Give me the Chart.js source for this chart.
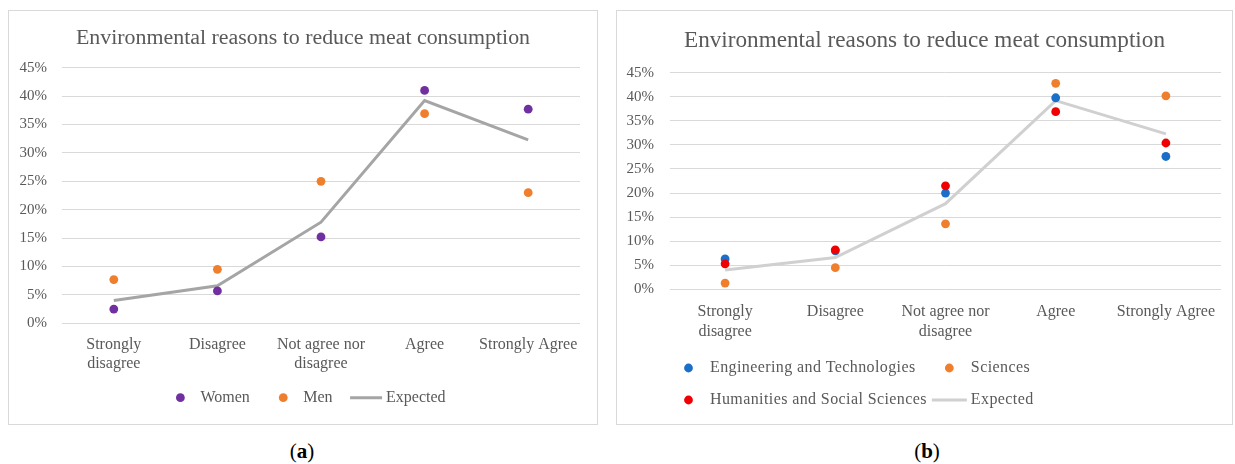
<!DOCTYPE html>
<html>
<head>
<meta charset="utf-8">
<script src="https://cdn.jsdelivr.net/npm/chart.js@4.4.1/dist/chart.umd.min.js"></script>
<style>
  html, body { margin: 0; padding: 0; background: #fff; }
  body { width: 1235px; height: 464px; position: relative; overflow: hidden; font-family: "Liberation Serif", serif; }
  .panel { position: absolute; box-sizing: border-box; border: 1px solid #d9d9d9; background: #fff; }
  #panelA { left: 8px; top: 10px; width: 590px; height: 415px; }
  #panelB { left: 616px; top: 10px; width: 617px; height: 415px; }
  .panel canvas { display: block; }
  .caption { position: absolute; top: 439px; font-size: 21px; color: #000; transform: translateX(-50%); white-space: nowrap; }
</style>
</head>
<body>
<div class="panel" id="panelA"><canvas id="chartA" width="588" height="413"></canvas></div>
<div class="panel" id="panelB"><canvas id="chartB" width="615" height="413"></canvas></div>
<div class="caption" style="left:302px">(<b>a</b>)</div>
<div class="caption" style="left:927px">(<b>b</b>)</div>
<script>
// Answer categories (x axis)
const categories = [['Strongly', 'disagree'], 'Disagree', ['Not agree nor', 'disagree'], 'Agree', 'Strongly Agree'];

// Value axis: percentages from 0 to 45 in steps of 5
const yMin = 0;
const yMax = 45;
const yStep = 5;

// Share of respondents (%) per answer
const expected    = [4.0, 6.6, 17.8, 39.2, 32.3];
const women       = [2.5, 5.7, 15.2, 41.0, 37.7];
const men         = [7.7, 9.5, 25.0, 36.9, 23.0];
const engineering = [6.3, 8.0, 20.0, 39.8, 27.6];
const sciences    = [1.3, 4.5, 13.6, 42.8, 40.2];
const humanities  = [5.3, 8.2, 21.5, 36.9, 30.4];

const TITLE = 'Environmental reasons to reduce meat consumption';
const TEXT_GREY = '#595959';
const GRID_GREY = '#d9d9d9';
const SERIF = '"Liberation Serif", "Times New Roman", serif';

// Centre the title over the whole canvas rather than the padded layout box
const centredTitle = {
  id: 'centredTitle',
  afterLayout(chart) {
    const t = chart.titleBlock;
    if (t) { t.left = 0; t.right = chart.width; t.width = chart.width; }
  }
};

// Legend drawn under the plot: dot for point series, short stroke for the line series
const symbolLegend = {
  id: 'symbolLegend',
  afterDraw(chart, args, opts) {
    const { ctx, chartArea } = chart;
    const sets = chart.data.datasets;
    ctx.save();
    ctx.font = opts.fontSize + 'px ' + SERIF;
    ctx.letterSpacing = (opts.letterSpacing || 0) + 'px';
    ctx.textBaseline = 'middle';
    const itemWidth = i => opts.symbolWidth + opts.textGap + ctx.measureText(sets[i].label).width;

    // column widths (grid layout) or per-item widths (flow layout)
    const nCol = Math.max(...opts.rows.map(r => r.length));
    const colW = [];
    for (let c = 0; c < nCol; c++) {
      colW[c] = Math.max(...opts.rows.map(r => (r[c] !== undefined ? itemWidth(r[c]) : 0)));
    }

    opts.rows.forEach((row, r) => {
      const y = chartArea.bottom + opts.firstRowOffset + r * opts.rowGap;
      const widths = row.map((idx, c) => (opts.grid ? colW[c] : itemWidth(idx)));
      const total = widths.reduce((a, b) => a + b, 0) + opts.itemGap * (row.length - 1);
      let x = opts.align === 'center' ? (chart.width - total) / 2 + (opts.shiftX || 0) : chartArea.left + opts.offsetX;
      row.forEach((idx, c) => {
        const ds = sets[idx];
        if (ds.showLine === false) {
          ctx.beginPath();
          ctx.fillStyle = ds.backgroundColor;
          ctx.arc(x + opts.symbolWidth / 2, y, ds.pointRadius, 0, Math.PI * 2);
          ctx.fill();
        } else {
          ctx.beginPath();
          ctx.strokeStyle = ds.borderColor;
          ctx.lineWidth = ds.borderWidth;
          ctx.moveTo(x, y);
          ctx.lineTo(x + opts.symbolWidth, y);
          ctx.stroke();
        }
        ctx.fillStyle = TEXT_GREY;
        ctx.textAlign = 'left';
        ctx.fillText(ds.label, x + opts.symbolWidth + opts.textGap, y);
        x += widths[c] + opts.itemGap;
      });
    });
    ctx.restore();
  }
};

function pointSeries(label, values, color, order) {
  return {
    label, data: values, showLine: false, order,
    backgroundColor: color, borderColor: color,
    pointRadius: 4.4, pointHoverRadius: 4.4, pointBorderWidth: 0
  };
}

function lineSeries(label, values, color, order) {
  return {
    label, data: values, order,
    borderColor: color, backgroundColor: color, borderWidth: 3,
    pointRadius: 0, pointHoverRadius: 0, tension: 0, fill: false,
    borderCapStyle: 'butt', borderJoinStyle: 'miter'
  };
}

function makeChart(canvas, datasets, s) {
  return new Chart(canvas, {
    type: 'line',
    data: { labels: categories, datasets },
    plugins: [centredTitle, symbolLegend],
    options: {
      responsive: false,
      animation: false,
      events: [],
      layout: { padding: { left: 0, top: 0, right: s.padRight, bottom: s.padBottom } },
      plugins: {
        legend: { display: false },
        tooltip: { enabled: false },
        title: {
          display: true, text: TITLE, color: TEXT_GREY,
          font: { family: SERIF, size: s.titleSize, weight: 'normal', lineHeight: 1.2 },
          padding: { top: s.titleTop, bottom: s.titleBottom }
        },
        symbolLegend: s.legend
      },
      scales: {
        x: {
          offset: true,
          grid: { display: false, drawTicks: false },
          border: { display: false },
          ticks: { color: TEXT_GREY, padding: s.xPad, autoSkip: false, maxRotation: 0,
                   font: { family: SERIF, size: 16, lineHeight: s.xLine } },
          afterFit: sc => { sc.height = s.xHeight; }
        },
        y: {
          min: yMin, max: yMax,
          grid: { color: GRID_GREY, lineWidth: 1, drawTicks: false },
          border: { display: false },
          ticks: { stepSize: yStep, color: TEXT_GREY, padding: s.yPad,
                   font: { family: SERIF, size: 15 },
                   callback: v => v + '%' },
          afterFit: sc => { sc.width = s.yWidth; }
        }
      }
    }
  });
}

// (a) by gender
makeChart(document.getElementById('chartA'), [
  pointSeries('Women', women, '#7030A0', 0),
  pointSeries('Men', men, '#F07F2D', 1),
  lineSeries('Expected', expected, '#A5A5A5', 2)
], {
  padRight: 17, padBottom: 38.7, titleSize: 21.9, titleTop: 14.2, titleBottom: 16.2,
  xHeight: 62, xPad: 11.4, xLine: 1.2, yWidth: 53, yPad: 15,
  legend: { rows: [[0, 1, 2]], grid: false, align: 'center', shiftX: 2, fontSize: 16,
            symbolWidth: 32, textGap: 4, itemGap: 17.5, firstRowOffset: 74.4, rowGap: 32 }
});

// (b) by field of study
makeChart(document.getElementById('chartB'), [
  pointSeries('Engineering and Technologies', engineering, '#1B6FC8', 1),
  pointSeries('Sciences', sciences, '#F07F2D', 2),
  pointSeries('Humanities and Social Sciences', humanities, '#F00000', 0),
  lineSeries('Expected', expected, '#D0D0D0', 3)
], {
  padRight: 11, padBottom: 72.7, titleSize: 23.2, titleTop: 15.5, titleBottom: 18.4,
  xHeight: 62, xPad: 12.4, xLine: 1.25, yWidth: 53, yPad: 16,
  legend: { rows: [[0, 1], [2, 3]], grid: true, align: 'start', offsetX: 1, fontSize: 16, letterSpacing: 0.4,
            symbolWidth: 35, textGap: 4, itemGap: 5, firstRowOffset: 78.7, rowGap: 32 }
});
</script>
</body>
</html>
